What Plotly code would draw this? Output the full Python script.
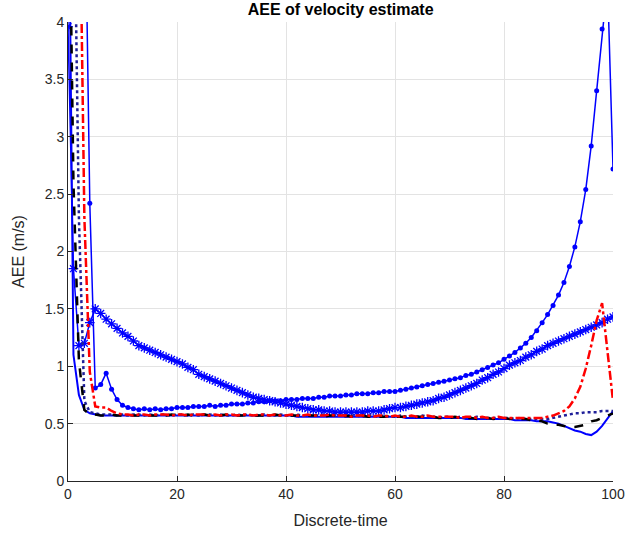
import plotly.graph_objects as go

x = list(range(0, 101))

# blue solid with dot markers
dots_series = [9.0, 8.0, 7.0, 5.6, 2.42, 0.81, 0.84, 0.94, 0.80, 0.71,
               0.66, 0.64, 0.63, 0.62, 0.63, 0.62, 0.63, 0.62, 0.63, 0.63,
               0.64, 0.64, 0.64, 0.65, 0.65, 0.65, 0.66, 0.65, 0.66, 0.66,
               0.67, 0.67, 0.67, 0.68, 0.68, 0.69, 0.69, 0.70, 0.70, 0.70,
               0.71, 0.71, 0.71, 0.72, 0.72, 0.72, 0.73, 0.73, 0.74, 0.74,
               0.74, 0.75, 0.75, 0.76, 0.76, 0.76, 0.77, 0.77, 0.78, 0.78,
               0.78, 0.79, 0.80, 0.81, 0.82, 0.83, 0.84, 0.85, 0.86, 0.87,
               0.88, 0.89, 0.90, 0.92, 0.93, 0.95, 0.97, 0.99, 1.01, 1.03,
               1.06, 1.09, 1.12, 1.16, 1.20, 1.25, 1.31, 1.38, 1.45, 1.53,
               1.62, 1.73, 1.87, 2.04, 2.26, 2.54, 2.92, 3.40, 3.94, 4.35, 2.72]

# blue solid with asterisk markers
star_series = [3.96, 1.85, 1.18, 1.20, 1.38, 1.50, 1.46, 1.41, 1.37, 1.33,
               1.29, 1.26, 1.22, 1.18, 1.16, 1.14, 1.12, 1.10, 1.08, 1.06,
               1.04, 1.02, 0.99, 0.97, 0.93, 0.91, 0.89, 0.87, 0.85, 0.83,
               0.81, 0.79, 0.77, 0.75, 0.73, 0.72, 0.71, 0.70, 0.69, 0.68,
               0.67, 0.66, 0.65, 0.64, 0.63, 0.62, 0.62, 0.61, 0.61, 0.60,
               0.60, 0.60, 0.60, 0.60, 0.60, 0.61, 0.61, 0.61, 0.62, 0.63,
               0.64, 0.64, 0.65, 0.66, 0.67, 0.68, 0.69, 0.70, 0.72, 0.73,
               0.75, 0.77, 0.79, 0.81, 0.83, 0.85, 0.88, 0.90, 0.93, 0.95,
               0.98, 1.01, 1.03, 1.05, 1.08, 1.10, 1.13, 1.15, 1.18, 1.20,
               1.22, 1.24, 1.26, 1.28, 1.30, 1.32, 1.34, 1.36, 1.38, 1.41, 1.43]

# red dash-dot
red_series = [9.0, 8.0, 5.7, 2.3, 0.95, 0.65, 0.64, 0.64, 0.61, 0.59,
              0.58, 0.58, 0.57, 0.58, 0.58, 0.57, 0.58, 0.58, 0.58, 0.57,
              0.58, 0.58, 0.57, 0.58, 0.58, 0.58, 0.57, 0.58, 0.57, 0.58,
              0.58, 0.57, 0.58, 0.58, 0.57, 0.58, 0.58, 0.57, 0.58, 0.57,
              0.57, 0.58, 0.57, 0.57, 0.58, 0.57, 0.57, 0.57, 0.58, 0.57,
              0.57, 0.57, 0.56, 0.57, 0.57, 0.57, 0.56, 0.57, 0.57, 0.56,
              0.57, 0.56, 0.56, 0.57, 0.56, 0.56, 0.57, 0.56, 0.56, 0.56,
              0.56, 0.56, 0.55, 0.56, 0.56, 0.55, 0.56, 0.55, 0.55, 0.56,
              0.55, 0.55, 0.55, 0.55, 0.55, 0.55, 0.55, 0.55, 0.56, 0.57,
              0.59, 0.61, 0.65, 0.72, 0.82, 0.98, 1.18, 1.40, 1.55, 1.13, 0.70]

# navy dotted
navy_series = [9.0, 5.5, 2.3, 0.70, 0.60, 0.59, 0.58, 0.58, 0.58, 0.57,
               0.58, 0.57, 0.58, 0.58, 0.57, 0.58, 0.57, 0.58, 0.58, 0.57,
               0.58, 0.58, 0.57, 0.58, 0.57, 0.58, 0.58, 0.57, 0.58, 0.57,
               0.57, 0.58, 0.57, 0.58, 0.57, 0.57, 0.58, 0.57, 0.57, 0.58,
               0.57, 0.57, 0.58, 0.57, 0.57, 0.57, 0.57, 0.58, 0.57, 0.57,
               0.57, 0.56, 0.57, 0.57, 0.56, 0.57, 0.57, 0.56, 0.57, 0.56,
               0.56, 0.57, 0.56, 0.56, 0.56, 0.57, 0.56, 0.56, 0.55, 0.56,
               0.56, 0.55, 0.56, 0.55, 0.55, 0.56, 0.55, 0.55, 0.55, 0.55,
               0.55, 0.55, 0.54, 0.55, 0.54, 0.54, 0.54, 0.54, 0.54, 0.55,
               0.56, 0.57, 0.58, 0.59, 0.59, 0.60, 0.60, 0.60, 0.61, 0.61, 0.61]

# black dashed
black_series = [6.0, 2.6, 1.05, 0.62, 0.58, 0.58, 0.57, 0.57, 0.58, 0.57,
                0.57, 0.58, 0.57, 0.57, 0.58, 0.57, 0.57, 0.58, 0.57, 0.58,
                0.57, 0.57, 0.58, 0.57, 0.57, 0.58, 0.57, 0.57, 0.57, 0.58,
                0.57, 0.57, 0.57, 0.58, 0.57, 0.57, 0.57, 0.57, 0.58, 0.57,
                0.57, 0.57, 0.57, 0.56, 0.57, 0.57, 0.57, 0.56, 0.57, 0.57,
                0.56, 0.57, 0.56, 0.56, 0.57, 0.56, 0.56, 0.56, 0.56, 0.57,
                0.56, 0.56, 0.56, 0.55, 0.56, 0.56, 0.55, 0.56, 0.55, 0.55,
                0.55, 0.56, 0.55, 0.55, 0.55, 0.54, 0.55, 0.55, 0.54, 0.55,
                0.55, 0.54, 0.55, 0.54, 0.54, 0.53, 0.53, 0.52, 0.50, 0.49,
                0.49, 0.48, 0.47, 0.47, 0.48, 0.49, 0.52, 0.53, 0.55, 0.57, 0.59]

# blue solid (no markers)
blue_series = [6.0, 1.10, 0.75, 0.62, 0.59, 0.58, 0.57, 0.57, 0.57, 0.57,
               0.57, 0.57, 0.57, 0.57, 0.57, 0.57, 0.57, 0.57, 0.57, 0.57,
               0.57, 0.57, 0.57, 0.57, 0.57, 0.57, 0.57, 0.57, 0.57, 0.57,
               0.57, 0.57, 0.57, 0.57, 0.57, 0.57, 0.57, 0.57, 0.57, 0.57,
               0.57, 0.57, 0.56, 0.56, 0.56, 0.56, 0.56, 0.56, 0.56, 0.56,
               0.56, 0.56, 0.56, 0.56, 0.56, 0.56, 0.56, 0.56, 0.56, 0.56,
               0.56, 0.56, 0.55, 0.55, 0.55, 0.55, 0.55, 0.55, 0.55, 0.55,
               0.55, 0.55, 0.55, 0.54, 0.54, 0.54, 0.54, 0.54, 0.54, 0.54,
               0.54, 0.54, 0.53, 0.53, 0.53, 0.53, 0.52, 0.52, 0.52, 0.51,
               0.50, 0.48, 0.46, 0.44, 0.43, 0.41, 0.40, 0.43, 0.48, 0.55, 0.61]

x_ticks = [0, 20, 40, 60, 80, 100]
y_ticks = [0, 0.5, 1, 1.5, 2, 2.5, 3, 3.5, 4]
y_tick_labels = ["0", "0.5", "1", "1.5", "2", "2.5", "3", "3.5", "4"]

BLUE = "#0000ff"
fig = go.Figure()
fig.add_trace(go.Scatter(x=x, y=blue_series, mode="lines",
                         line=dict(color=BLUE, width=2)))
fig.add_trace(go.Scatter(x=x, y=star_series, mode="lines+markers",
                         line=dict(color=BLUE, width=1.5),
                         marker=dict(symbol="asterisk-open", size=8,
                                     line=dict(color=BLUE, width=1.3))))
fig.add_trace(go.Scatter(x=x, y=dots_series, mode="lines+markers",
                         line=dict(color=BLUE, width=1.5),
                         marker=dict(symbol="circle", size=5, color=BLUE)))
fig.add_trace(go.Scatter(x=x, y=navy_series, mode="lines",
                         line=dict(color="#1f1f99", width=2.5, dash="dot")))
fig.add_trace(go.Scatter(x=x, y=black_series, mode="lines",
                         line=dict(color="#000000", width=2.5, dash="dash")))
fig.add_trace(go.Scatter(x=x, y=red_series, mode="lines",
                         line=dict(color="#ff0000", width=2.5, dash="dashdot")))

FONT = "Liberation Sans, Arial, sans-serif"
axis_common = dict(showgrid=True, gridcolor="#e3e3e3", gridwidth=1,
                   zeroline=False, showline=True, linecolor="#262626",
                   linewidth=1, ticks="inside", ticklen=5, tickcolor="#262626",
                   mirror=False, automargin=False,
                   tickfont=dict(family=FONT, size=14, color="#262626"))

fig.update_layout(
    width=625, height=543,
    margin=dict(l=68, r=12, t=22, b=62),
    paper_bgcolor="white", plot_bgcolor="white",
    showlegend=False,
    xaxis=dict(range=[0, 100], tickvals=x_ticks,
               title=dict(text="Discrete-time", standoff=14,
                          font=dict(family=FONT, size=16, color="#262626")),
               **axis_common),
    yaxis=dict(range=[0, 4], tickvals=y_ticks, ticktext=y_tick_labels,
               title=dict(text="AEE (m/s)", standoff=16,
                          font=dict(family=FONT, size=16, color="#262626")),
               **axis_common),
    title=dict(text="<b>AEE of velocity estimate</b>", x=0.545, xanchor="center",
               y=1.0, yanchor="top", yref="container", pad=dict(t=4),
               font=dict(family=FONT, size=16, color="#000000")),
)

fig.write_html("out.html")
